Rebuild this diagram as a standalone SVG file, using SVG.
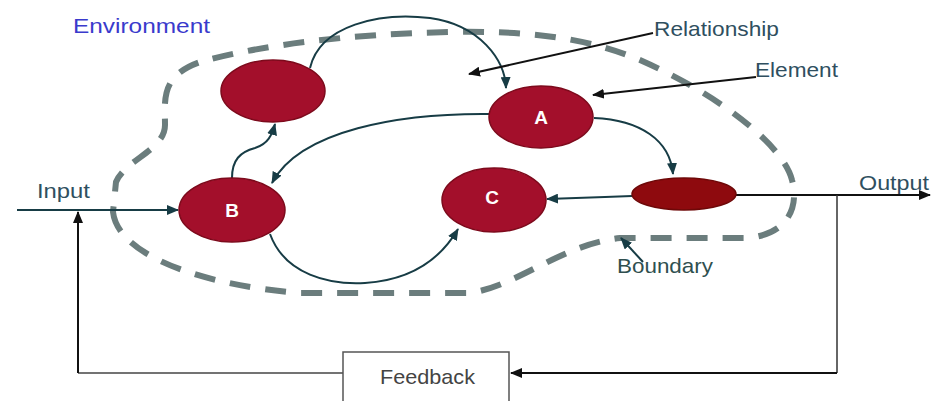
<svg xmlns="http://www.w3.org/2000/svg" width="932" height="401" viewBox="0 0 932 401">
<defs>
<style>
.el{fill:#a30f2b;stroke:#7d0a1c;stroke-width:1.5}
.dk{fill:#8e0a0e;stroke:#6e0808;stroke-width:1.5}
.lbl{font-family:"Liberation Sans",Arial,sans-serif;fill:#ffffff;font-weight:bold;font-size:19px;text-anchor:middle}
.t{font-family:"Liberation Sans",Arial,sans-serif;font-size:21px}
.c{fill:none;stroke:#173c45;stroke-width:2}
.k{fill:none;stroke:#111;stroke-width:2}
</style>
<marker id="ah" viewBox="0 0 12 10" refX="11" refY="5" markerWidth="12" markerHeight="10" markerUnits="userSpaceOnUse" orient="auto"><path d="M0,0 L12,5 L0,10 Z" fill="#173c45"/></marker>
<marker id="ak" viewBox="0 0 12 10" refX="11" refY="5" markerWidth="12" markerHeight="10" markerUnits="userSpaceOnUse" orient="auto"><path d="M0,0 L12,5 L0,10 Z" fill="#111"/></marker>
</defs>
<rect width="932" height="401" fill="#ffffff"/>
<g id="boundary">
<path d="M113,212 C118,255 200,285 300,293 L470,293 C520,285 560,245 620,238 L745,238 C785,236 800,210 792,180 C785,150 730,100 640,60 C580,35 520,31 450,32 C350,34 260,45 200,62 C160,76 165,100 165,125 C165,150 125,160 116,182 Z" fill="none" stroke="#6b7d7d" stroke-width="6" stroke-dasharray="21 15"/>
</g>
<g id="labels">
<text class="t" x="73" y="33" fill="#3a3acc" font-size="21" textLength="137" lengthAdjust="spacingAndGlyphs">Environment</text>
<text class="t" x="654" y="36" fill="#2f4f5f" textLength="125" lengthAdjust="spacingAndGlyphs">Relationship</text>
<text class="t" x="755" y="77" fill="#2f4f5f" textLength="83" lengthAdjust="spacingAndGlyphs">Element</text>
<text class="t" x="37" y="198" fill="#2f4f5f" font-size="19" textLength="53" lengthAdjust="spacingAndGlyphs">Input</text>
<text class="t" x="859" y="190" fill="#2f4f5f" textLength="70" lengthAdjust="spacingAndGlyphs">Output</text>
<text class="t" x="617" y="273" fill="#2f4f4f" font-size="20" textLength="96" lengthAdjust="spacingAndGlyphs">Boundary</text>
</g>
<g id="connectors">
<path class="c" d="M310,68 C320,25 380,12 430,18 C480,25 505,60 506,88" marker-end="url(#ah)"/>
<path class="c" d="M490,114 C400,113 300,130 272,183" marker-end="url(#ah)"/>
<path class="c" d="M232,178 C232,160 240,152 255,148 C268,144 272,135 275,124" marker-end="url(#ah)"/>
<path class="c" d="M270,234 C285,275 330,285 365,283 C410,280 440,260 458,229" marker-end="url(#ah)"/>
<path class="c" d="M594,118 C640,120 670,140 673,174" marker-end="url(#ah)"/>
<path class="c" d="M632,196 L605,197 L547,199" marker-end="url(#ah)"/>
<path class="c" d="M17,210 L178,210" marker-end="url(#ah)"/>
<path class="k" d="M736,195 L930,195" marker-end="url(#ak)"/>
<path d="M837,195 L837,373" fill="none" stroke="#333" stroke-width="1.5"/>
<path class="k" d="M837,373 L511,373" stroke-width="2.5" marker-end="url(#ak)"/>
<path d="M343,373 L78,373" fill="none" stroke="#444" stroke-width="1.5"/>
<path class="k" d="M78,373 L78,212" stroke-width="3" marker-end="url(#ak)"/>
<path class="k" d="M653,33 L469,74" marker-end="url(#ak)"/>
<path class="k" d="M756,77 L593,95" marker-end="url(#ak)"/>
<path class="c" d="M643,262 L621,238" marker-end="url(#ah)"/>
</g>
<g id="node-top"><ellipse class="el" cx="273" cy="91" rx="52" ry="31"/></g>
<g id="node-A"><ellipse class="el" cx="541" cy="117" rx="52" ry="31"/><text class="lbl" x="541" y="124">A</text></g>
<g id="node-B"><ellipse class="el" cx="232" cy="210" rx="53" ry="32"/><text class="lbl" x="232" y="217">B</text></g>
<g id="node-C"><ellipse class="el" cx="494" cy="200" rx="52" ry="32"/><text class="lbl" x="492" y="204">C</text></g>
<g id="node-out"><ellipse class="dk" cx="684" cy="194" rx="52" ry="16"/></g>
<g id="node-feedback"><rect x="343" y="352" width="166" height="60" fill="#fff" stroke="#555" stroke-width="1.5"/><text class="t" x="380" y="384" fill="#444" font-size="18" textLength="95" lengthAdjust="spacingAndGlyphs">Feedback</text></g>
</svg>
